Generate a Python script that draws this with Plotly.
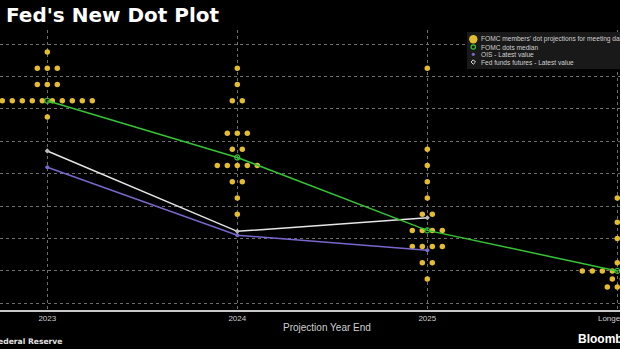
import plotly.graph_objects as go
from collections import Counter

# ---------------- data ----------------
categories = ["2023", "2024", "2025", "Longer run"]

dots_2023 = [5.875, 5.625, 5.625, 5.625, 5.375, 5.375, 5.375,
             5.125, 5.125, 5.125, 5.125, 5.125, 5.125, 5.125, 5.125, 5.125, 5.125,
             4.875]
dots_2024 = [5.625, 5.375, 5.125, 5.125, 4.625, 4.625, 4.625, 4.375, 4.375,
             4.125, 4.125, 4.125, 4.125, 4.125, 3.875, 3.875, 3.625, 3.375]
dots_2025 = [5.625, 4.375, 4.125, 3.875, 3.625, 3.375, 3.375,
             3.125, 3.125, 3.125, 3.125, 2.875, 2.875, 2.875, 2.875,
             2.625, 2.625, 2.375]
dots_longer = [3.625, 3.25, 3.0, 2.625,
               2.5, 2.5, 2.5, 2.5, 2.5, 2.5, 2.5, 2.5,
               2.375, 2.375, 2.25, 2.25, 2.25]

median_vals = [5.125, 4.25, 3.125, 2.5]
ois_vals = [4.10, 3.05, 2.82]
futures_vals = [4.35, 3.11, 3.32]

# ---------------- geometry helpers (style) ----------------
W, H = 620, 349
ML, MR, MT, MB = 0, 0, 30, 39
PX_PER_CAT = 190.0
X0_PX = 47.3
x_range = [-X0_PX / PX_PER_CAT, (W - X0_PX) / PX_PER_CAT]
y_range = [1.897, 6.216]
DOT_STEP = 10.0 / PX_PER_CAT

def px_to_paper_x(px):
    return (px - ML) / (W - ML - MR)

def px_to_paper_y(py):
    return (H - MB - py) / (H - MT - MB)

# build dot positions through the category scale
dx, dy = [], []
for ci, col in enumerate([dots_2023, dots_2024, dots_2025, dots_longer]):
    counts = Counter(col)
    for val, n in counts.items():
        for i in range(n):
            dx.append(ci + (i - (n - 1) / 2.0) * DOT_STEP)
            dy.append(val)

GOLD = "#E3BC2F"
GREEN = "#34C534"
PURPLE = "#7A66CC"
WHITE = "#E6E6E6"

fig = go.Figure()

fig.add_trace(go.Scatter(
    x=dx, y=dy, mode="markers",
    marker=dict(color=GOLD, size=5.5, line=dict(width=0)),
    name="FOMC members' dot projections for meeting date", showlegend=False,
))

fig.add_trace(go.Scatter(
    x=list(range(len(ois_vals))), y=ois_vals, mode="lines+markers",
    line=dict(color=PURPLE, width=1.5),
    marker=dict(color=PURPLE, size=4),
    name="OIS - Latest value", showlegend=False,
))
fig.add_trace(go.Scatter(
    x=list(range(len(futures_vals))), y=futures_vals, mode="lines+markers",
    line=dict(color=WHITE, width=1.5),
    marker=dict(color="#BBBBBB", size=4, symbol="diamond"),
    name="Fed funds futures - Latest value", showlegend=False,
))
fig.add_trace(go.Scatter(
    x=list(range(len(median_vals))), y=median_vals, mode="lines+markers",
    line=dict(color=GREEN, width=1.5),
    marker=dict(color=GREEN, size=5, symbol="circle-open", line=dict(width=1.2)),
    name="FOMC dots median", showlegend=False,
))

GRID = "#6E6E6E"
fig.update_xaxes(
    range=x_range, tickmode="array", tickvals=list(range(len(categories))),
    ticktext=categories, showgrid=True, gridcolor=GRID, griddash="dot", gridwidth=1,
    zeroline=False, showline=True, linecolor="#C8C8C8", linewidth=1.5,
    ticks="", ticklabeloverflow="allow", automargin=False,
    tickfont=dict(family="Liberation Sans", size=8, color="#CFCFCF"),
)
fig.update_yaxes(
    range=y_range, dtick=0.5, tick0=0, showgrid=True, gridcolor=GRID, griddash="dot",
    gridwidth=1, zeroline=False, showticklabels=False, showline=False, automargin=False,
)

shapes = []
annotations = []

# legend box
shapes.append(dict(type="rect", xref="paper", yref="paper",
                   x0=px_to_paper_x(467), x1=px_to_paper_x(640),
                   y0=px_to_paper_y(69), y1=px_to_paper_y(32),
                   fillcolor="#191919", line=dict(width=0), layer="above"))

def legend_circle(cx, cy, r, fill, line_color, lw=0):
    shapes.append(dict(type="circle", xref="paper", yref="paper",
                       x0=px_to_paper_x(cx - r), x1=px_to_paper_x(cx + r),
                       y0=px_to_paper_y(cy + r), y1=px_to_paper_y(cy - r),
                       fillcolor=fill, line=dict(color=line_color, width=lw), layer="above"))

legend_circle(473.3, 39.3, 4.2, GOLD, GOLD, 0)
legend_circle(473.3, 47.0, 2.2, "rgba(0,0,0,0)", GREEN, 1.2)
legend_circle(473.3, 54.3, 1.6, PURPLE, PURPLE, 0)
# diamond for futures
cx, cy, r = 473.3, 62.0, 2.2
shapes.append(dict(type="path", xref="paper", yref="paper",
                   path="M {},{} L {},{} L {},{} L {},{} Z".format(
                       px_to_paper_x(cx), px_to_paper_y(cy - r),
                       px_to_paper_x(cx + r), px_to_paper_y(cy),
                       px_to_paper_x(cx), px_to_paper_y(cy + r),
                       px_to_paper_x(cx - r), px_to_paper_y(cy)),
                   fillcolor="rgba(0,0,0,0)", line=dict(color=WHITE, width=1), layer="above"))

legend_texts = ["FOMC members' dot projections for meeting date",
                "FOMC dots median", "OIS - Latest value", "Fed funds futures - Latest value"]
for t, yy in zip(legend_texts, [39.3, 47.0, 54.3, 62.0]):
    annotations.append(dict(text=t, xref="paper", yref="paper",
                            x=px_to_paper_x(479), y=px_to_paper_y(yy),
                            xanchor="left", yanchor="middle", showarrow=False,
                            font=dict(family="Liberation Sans", size=6.6, color="#D0D0D0")))

# title
annotations.append(dict(text="<b>Fed's New Dot Plot</b>", xref="paper", yref="paper",
                        x=px_to_paper_x(4), y=px_to_paper_y(15), xanchor="left", yanchor="middle",
                        showarrow=False,
                        font=dict(family="DejaVu Sans", size=20, color="#FFFFFF")))
# x-axis title
annotations.append(dict(text="Projection Year End", xref="paper", yref="paper",
                        x=px_to_paper_x(327), y=px_to_paper_y(327), xanchor="center",
                        yanchor="middle", showarrow=False,
                        font=dict(family="Liberation Sans", size=10, color="#CFCFCF")))
# source
annotations.append(dict(text="<b>Source: Federal Reserve</b>", xref="paper", yref="paper",
                        x=px_to_paper_x(64), y=px_to_paper_y(341), xanchor="right",
                        yanchor="middle", showarrow=False,
                        font=dict(family="DejaVu Sans", size=7.6, color="#E0E0E0")))
# logo
annotations.append(dict(text="<b>Bloomberg</b>", xref="paper", yref="paper",
                        x=px_to_paper_x(576), y=px_to_paper_y(339), xanchor="left",
                        yanchor="middle", showarrow=False,
                        font=dict(family="Liberation Sans", size=12, color="#FFFFFF")))

fig.update_layout(
    width=W, height=H,
    margin=dict(l=ML, r=MR, t=MT, b=MB, pad=0, autoexpand=False),
    paper_bgcolor="#000000", plot_bgcolor="#000000",
    shapes=shapes, annotations=annotations, showlegend=False,
)

fig.write_html("out.html")
